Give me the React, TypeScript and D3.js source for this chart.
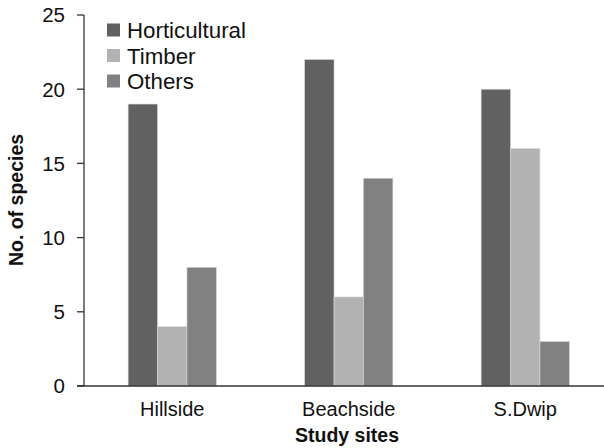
import React from "react";
import * as d3 from "d3";

const sites = ["Hillside", "Beachside", "S.Dwip"];
const seriesNames = ["Horticultural", "Timber", "Others"];
const horticultural = [19, 22, 20];
const timber = [4, 6, 16];
const others = [8, 14, 3];
const yTicks = [0, 5, 10, 15, 20, 25];
const colors = ["#616161", "#b2b2b2", "#818181"];

const W = 604;
const H = 448;
const FONT = "'Liberation Sans', Arial, sans-serif";

export default function App() {
  const values = [horticultural, timber, others];
  const y = d3.scaleLinear().domain([0, 25]).range([386, 15]);
  const x0 = d3.scaleBand<string>().domain(sites).range([84, 613.5]).padding(0);
  const bw = x0.bandwidth();
  const x1 = d3
    .scaleBand<string>()
    .domain(seriesNames)
    .range([bw * 0.25, bw * 0.75])
    .padding(0);

  return (
    <svg
      width={W}
      height={H}
      style={{ position: "absolute", left: 0, top: 0, background: "#fff" }}
      fontFamily={FONT}
    >
      <rect width={W} height={H} fill="#fff" />
      {sites.map((s, i) => (
        <g key={s} transform={`translate(${x0(s)},0)`}>
          {seriesNames.map((n, k) => (
            <rect
              key={n}
              x={x1(n)}
              y={y(values[k][i])}
              width={x1.bandwidth()}
              height={y(0) - y(values[k][i])}
              fill={colors[k]}
              stroke="#d8d8d8"
              strokeWidth={0.6}
            />
          ))}
          <text
            x={bw / 2}
            y={416}
            textAnchor="middle"
            fontSize={20}
            fill="#111"
          >
            {s}
          </text>
        </g>
      ))}
      {/* y axis */}
      <line x1={84} x2={84} y1={y(25)} y2={y(0)} stroke="#333" strokeWidth={1.3} />
      <line x1={77} x2={W} y1={y(0)} y2={y(0)} stroke="#333" strokeWidth={1.3} />
      {yTicks.map((t) => (
        <g key={t}>
          <line x1={77} x2={84} y1={y(t)} y2={y(t)} stroke="#333" strokeWidth={1.3} />
          <text
            x={65}
            y={y(t)}
            dy="0.36em"
            textAnchor="end"
            fontSize={20.5}
            fill="#111"
          >
            {t}
          </text>
        </g>
      ))}
      <text
        transform="translate(23,200) rotate(-90)"
        textAnchor="middle"
        fontSize={19.5}
        fontWeight="bold"
        fill="#111"
      >
        No. of species
      </text>
      <text
        x={347}
        y={442}
        textAnchor="middle"
        fontSize={19.5}
        fontWeight="bold"
        fill="#111"
      >
        Study sites
      </text>
      {/* legend */}
      {seriesNames.map((n, k) => (
        <g key={n} transform={`translate(107,${30 + k * 25.5})`}>
          <rect x={0} y={-6.5} width={13} height={13} fill={colors[k]} />
          <text x={20} y={0} dy="0.36em" fontSize={22.3} fill="#111">
            {n}
          </text>
        </g>
      ))}
    </svg>
  );
}
